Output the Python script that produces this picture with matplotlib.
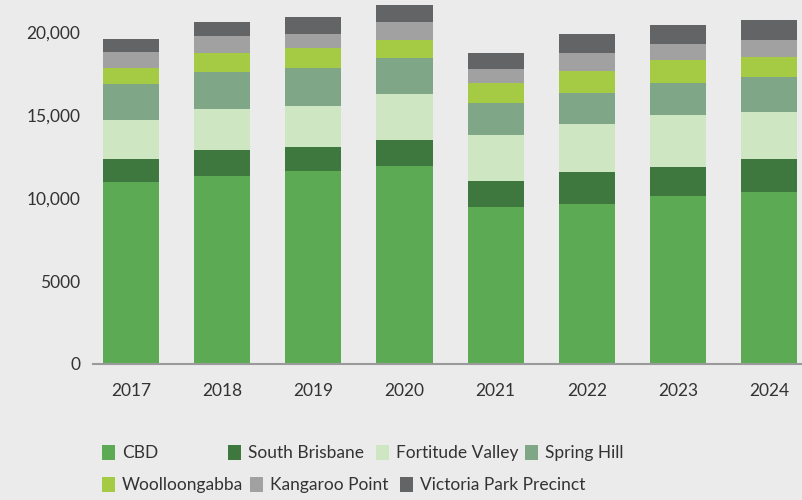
import matplotlib.pyplot as plt
import numpy as np
from matplotlib.patches import Patch
from matplotlib.ticker import FuncFormatter

years = ['2017', '2018', '2019', '2020', '2021', '2022', '2023', '2024']
areas = ['CBD', 'South Brisbane', 'Fortitude Valley', 'Spring Hill',
         'Woolloongabba', 'Kangaroo Point', 'Victoria Park Precinct']

cbd = [10960, 11320, 11630, 11930, 9460, 9640, 10120, 10360]
south_brisbane = [1390, 1570, 1450, 1570, 1570, 1930, 1750, 1990]
fortitude_valley = [2350, 2470, 2470, 2770, 2770, 2890, 3130, 2830]
spring_hill = [2170, 2230, 2290, 2170, 1930, 1870, 1930, 2110]
woolloongabba = [960, 1150, 1210, 1080, 1210, 1330, 1390, 1210]
kangaroo_point = [960, 1020, 840, 1080, 840, 1080, 960, 1020]
victoria_park = [780, 840, 1020, 1020, 960, 1150, 1150, 1210]

series = [cbd, south_brisbane, fortitude_valley, spring_hill,
          woolloongabba, kangaroo_point, victoria_park]
colors = ['#5daa55', '#3e783e', '#cfe6c2', '#7ea687',
          '#a5cb45', '#a1a1a1', '#636466']

bg = '#ebebeb'
text_color = '#333333'
font = 'Lato'

fig = plt.figure(figsize=(8.02, 5.0), dpi=100, facecolor=bg)
ax = fig.add_axes([93 / 802, 1 - 364 / 500, 1 - 93 / 802, 364 / 500])
ax.set_facecolor(bg)

x = np.arange(len(years))
bottom = np.zeros(len(years))
for vals, c in zip(series, colors):
    ax.bar(x, vals, width=0.615, bottom=bottom, color=c, linewidth=0)
    bottom += np.array(vals)

ax.set_xlim(-0.417, 7.36)
ax.set_ylim(0, 21928)
ax.set_yticks([0, 5000, 10000, 15000, 20000])
ax.yaxis.set_major_formatter(FuncFormatter(
    lambda v, p: f'{int(v):,}' if v >= 10000 else f'{int(v)}'))
ax.set_xticks(x)
ax.set_xticklabels(years)

for s in ['top', 'right', 'left']:
    ax.spines[s].set_visible(False)
ax.spines['bottom'].set_color('#9a9a9a')
ax.spines['bottom'].set_linewidth(1.5)

ax.tick_params(axis='y', length=0, pad=9, labelsize=12.5, labelcolor=text_color)
ax.tick_params(axis='x', length=0, pad=14, labelsize=12.5, labelcolor=text_color)
for lab in ax.get_xticklabels() + ax.get_yticklabels():
    lab.set_fontfamily(font)

# legend entries placed one by one, like a wrapping html legend
fs = 12.5
fs_px = fs * 100 / 72
spots = [(102, 453), (228, 453), (376, 453), (525, 453),
         (102, 485), (250, 485), (400, 485)]
for name, c, (px, py) in zip(areas, colors, spots):
    fig.legend(handles=[Patch(facecolor=c, linewidth=0)], labels=[name],
               loc='center left', bbox_to_anchor=(px / 802, 1 - py / 500),
               frameon=False, borderpad=0, borderaxespad=0,
               handlelength=13 / fs_px, handleheight=17 / fs_px,
               handletextpad=7 / fs_px,
               prop={'family': font, 'size': fs},
               labelcolor=text_color)

fig.savefig('out.png', dpi=100, facecolor=bg)
